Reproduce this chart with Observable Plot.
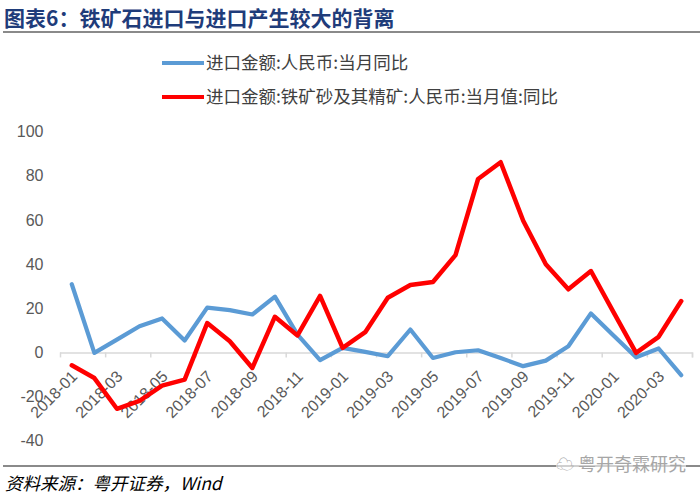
<!DOCTYPE html>
<html>
<head>
<meta charset="utf-8">
<script src="https://cdn.jsdelivr.net/npm/d3@7"></script>
<script src="https://cdn.jsdelivr.net/npm/@observablehq/plot@0.6"></script>
<style>
  html, body { margin: 0; padding: 0; background: #fff; }
  #wrap { position: relative; width: 700px; height: 498px; overflow: hidden; font-family: "Noto Sans CJK SC", "Noto Sans", sans-serif; }
  #title { position: absolute; left: 4px; top: 2px; font-size: 21px; font-weight: bold; color: #1F3C7A; line-height: 30px; white-space: nowrap; }
  #titleRule { position: absolute; left: 3px; right: 0; top: 31px; height: 2px; background: #8a8a8a; }
  .leg { position: absolute; left: 162px; font-size: 17.5px; color: #404040; white-space: nowrap; line-height: 24px; }
  .leg .sw { display: inline-block; width: 42px; height: 4px; vertical-align: middle; margin-right: 2px; position: relative; top: -1px; }
  #footRule { position: absolute; left: 3px; right: 0; top: 465px; height: 1.5px; background: #8a8a8a; }
  #source { position: absolute; left: 5px; top: 470px; font-size: 17.5px; font-style: italic; color: #000; line-height: 26px; white-space: nowrap; }
  #mark { position: absolute; left: 556px; top: 452px; font-size: 18px; color: #a6a6a6; background: rgba(255,255,255,0.6); white-space: nowrap; line-height: 22px; }
  #chart { position: absolute; left: 0; top: 0; }
</style>
</head>
<body>
<div id="wrap">
  <div id="chart"></div>
  <div id="title">图表6：铁矿石进口与进口产生较大的背离</div>
  <div id="titleRule"></div>
  <div class="leg" id="leg1" style="top:50px"><span class="sw" style="background:#5B9BD5"></span>进口金额:人民币:当月同比</div>
  <div class="leg" id="leg2" style="top:84px"><span class="sw" style="background:#FF0000"></span>进口金额:铁矿砂及其精矿:人民币:当月值:同比</div>
  <div id="footRule"></div>
  <div id="mark">&#9729; 粤开奇霖研究</div>
  <div id="source">资料来源：粤开证券，Wind</div>
</div>
<script>
const months = ["2018-01","2018-02","2018-03","2018-04","2018-05","2018-06","2018-07","2018-08","2018-09","2018-10","2018-11","2018-12",
  "2019-01","2019-02","2019-03","2019-04","2019-05","2019-06","2019-07","2019-08","2019-09","2019-10","2019-11","2019-12",
  "2020-01","2020-02","2020-03","2020-04"];
const importTotal = [31.1, 0, 6, 12.1, 15.6, 5.6, 20.5, 19.4, 17.4, 25.5, 8.3, -3.3,
  2.3, 0.5, -1.5, 10.6, -2.3, 0.3, 1.2, -2.3, -6, -3.5, 3, 17.9,
  7.9, -2, 2, -10.1];
const importIronOre = [-5.6, -11.4, -25.3, -21.7, -14.8, -12.1, 13.5, 5.3, -6.8, 16.4, 7.9, 25.8,
  2.3, 9.4, 25, 30.8, 32.1, 44.3, 78.8, 86.4, 59.9, 40.2, 28.8, 37.1,
  18.5, 0, 7.3, 23.5];
const yTicks = [-40, -20, 0, 20, 40, 60, 80, 100];
const labelIdx = d3.range(0, months.length, 2);
const tickPos = d3.range(-0.5, months.length, 2).concat([months.length - 0.5]);

const blue = months.map((m, i) => ({i, v: importTotal[i]}));
const red = months.map((m, i) => ({i, v: importIronOre[i]}));

const chart = Plot.plot({
  width: 700,
  height: 498,
  marginTop: 131.7,
  marginBottom: 57.3,
  marginLeft: 60,
  marginRight: 8,
  style: {fontFamily: "'Liberation Sans', Arial, sans-serif", fontSize: "16px", color: "#595959", background: "transparent"},
  x: {type: "linear", domain: [-0.5, months.length - 0.5], axis: null, label: null},
  y: {domain: [-40, 100], axis: null, label: null},
  marks: [
    Plot.axisY({ticks: yTicks, tickSize: 0, tickPadding: 17, fontSize: 16, fill: "#595959", tickFormat: d => String(d), label: null}),
    Plot.ruleY([0], {stroke: "#d9d9d9", strokeWidth: 1.5}),
    Plot.ruleX(tickPos, {x: d => d, y1: 0, y2: 0, insetBottom: -5, stroke: "#d9d9d9", strokeWidth: 1.5}),
    Plot.text(labelIdx, {x: d => d, y: 0, text: d => months[d], rotate: -45, textAnchor: "end", dx: 3, dy: 21, fontSize: 16, fill: "#595959"}),
    Plot.line(blue, {x: "i", y: "v", stroke: "#5B9BD5", strokeWidth: 4.2, strokeLinejoin: "round", strokeLinecap: "round"}),
    Plot.line(red, {x: "i", y: "v", stroke: "#FF0000", strokeWidth: 4.5, strokeLinejoin: "round", strokeLinecap: "round"})
  ]
});
document.getElementById("chart").appendChild(chart);
</script>
</body>
</html>
